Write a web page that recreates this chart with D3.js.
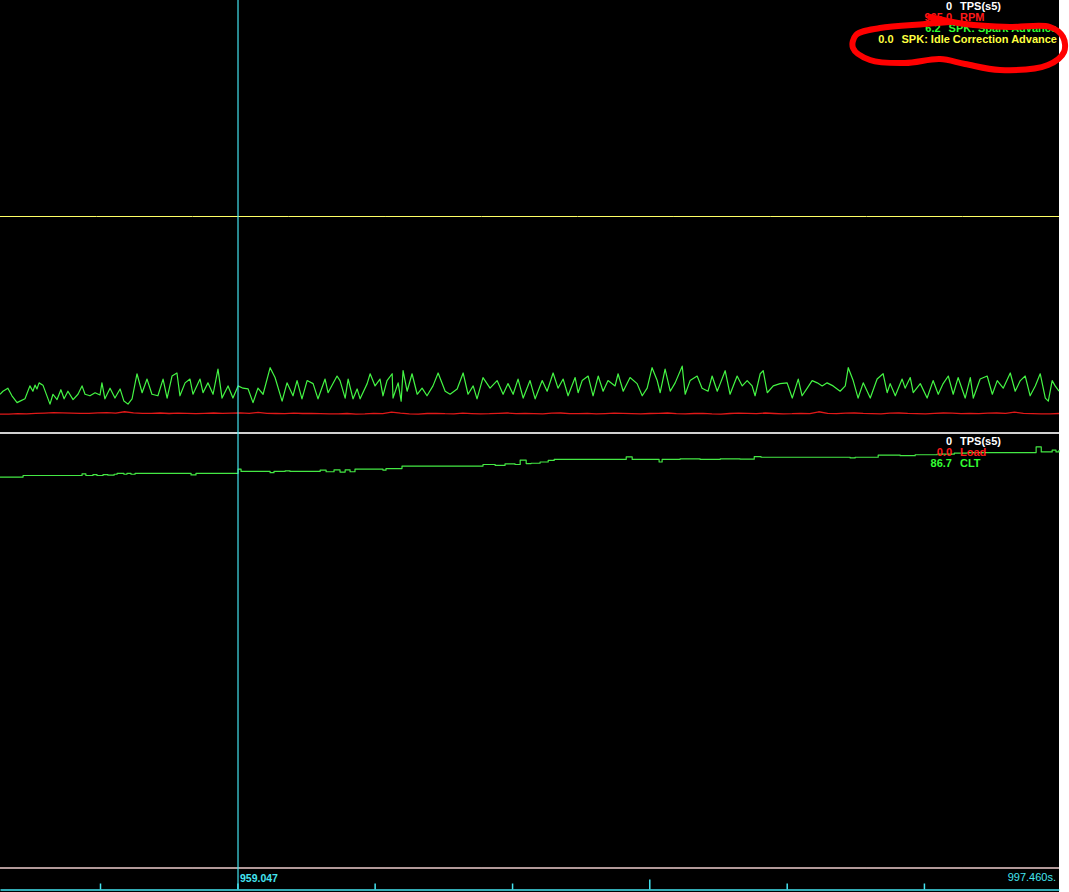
<!DOCTYPE html>
<html><head><meta charset="utf-8">
<script src="https://cdn.jsdelivr.net/npm/d3@7"></script>
<style>html,body{margin:0;padding:0;background:#fff;}svg{display:block;}</style>
</head><body>
<script>
// ---------------- DATA ----------------
const timeStart = 947.911, timeEnd = 997.460, cursorTime = 959.047;
const axisTicks = [952.59, 959.02, 965.44, 971.87, 978.29, 984.72, 991.14];
const majorTick = 978.29;

// SPK: Spark Advance (deg) – [time s, value]
const sparkAdvance = [
[947.91,5.1],[948.05,5.5],[948.28,5.9],[948.47,4.9],[948.71,4.0],[948.85,4.2],[949.08,4.5],[949.31,6.2],[949.45,5.5],[949.55,6.3],
[949.64,5.8],[949.74,6.6],[949.92,6.3],[950.25,3.8],[950.39,5.1],[950.58,4.4],[950.76,5.7],[950.91,4.5],[951.09,5.5],[951.33,4.4],
[951.56,5.1],[951.75,6.2],[951.89,5.1],[952.12,4.9],[952.36,5.3],[952.59,5.0],[952.68,6.6],[952.82,4.5],[953.06,5.9],[953.29,4.6],
[953.53,5.8],[953.71,4.2],[953.90,3.8],[954.09,4.5],[954.32,7.8],[954.56,5.3],[954.79,7.1],[955.02,5.1],[955.30,4.9],[955.54,7.1],
[955.73,4.6],[955.96,7.5],[956.19,7.9],[956.33,4.9],[956.57,6.6],[956.80,7.1],[956.94,5.1],[957.27,7.1],[957.41,5.3],[957.64,6.6],
[957.88,5.1],[958.11,8.4],[958.30,4.6],[958.58,6.2],[958.81,4.6],[959.05,6.2],[959.28,5.9],[959.52,5.8],[959.75,4.0],[959.98,5.9],
[960.22,5.1],[960.55,8.6],[960.78,7.3],[961.11,4.2],[961.34,6.6],[961.62,4.9],[961.81,6.9],[962.04,4.5],[962.28,6.9],[962.56,6.5],
[962.79,4.5],[963.12,7.1],[963.26,5.3],[963.68,7.5],[963.82,6.9],[964.06,4.6],[964.20,7.1],[964.43,4.5],[964.62,5.8],[964.76,4.5],
[965.09,6.5],[965.23,7.8],[965.46,6.2],[965.69,7.1],[965.83,4.9],[966.02,6.9],[966.26,7.8],[966.30,4.6],[966.54,6.6],[966.68,4.2],
[966.77,8.2],[966.96,5.5],[967.19,7.8],[967.43,5.1],[967.66,5.9],[967.89,4.9],[968.17,6.2],[968.41,7.9],[968.74,5.5],[968.97,5.1],
[969.30,5.8],[969.58,7.9],[969.81,5.1],[970.05,6.2],[970.23,4.5],[970.51,7.3],[970.84,5.9],[971.17,6.9],[971.45,5.1],[971.68,6.5],
[971.92,5.1],[972.15,7.1],[972.39,4.6],[972.71,6.9],[972.95,4.5],[973.28,6.9],[973.51,5.5],[973.79,7.9],[974.02,5.9],[974.26,7.1],
[974.49,4.9],[974.82,7.3],[974.96,5.3],[975.15,6.9],[975.43,7.5],[975.66,4.9],[975.90,7.5],[976.13,5.5],[976.36,6.9],[976.69,6.2],
[976.83,7.8],[977.07,5.5],[977.39,7.3],[977.72,6.5],[977.96,4.9],[978.19,5.9],[978.42,8.6],[978.66,6.9],[978.80,5.3],[979.03,8.4],
[979.27,5.5],[979.50,6.6],[979.83,8.8],[979.97,5.1],[980.20,6.9],[980.53,7.5],[980.76,5.9],[981.04,5.5],[981.23,7.5],[981.47,5.5],
[981.61,6.5],[981.84,8.2],[982.07,5.1],[982.40,7.5],[982.64,6.2],[982.87,6.9],[983.10,6.2],[983.24,4.9],[983.48,7.8],[983.62,8.2],
[983.81,5.3],[984.09,6.2],[984.41,6.5],[984.74,6.6],[984.98,4.6],[985.26,7.1],[985.44,4.9],[985.68,5.9],[985.91,6.9],[986.15,6.6],
[986.38,6.2],[986.61,6.6],[986.89,6.2],[987.22,5.5],[987.46,6.2],[987.60,8.6],[987.83,6.9],[988.06,4.6],[988.30,6.6],[988.63,4.6],
[988.95,7.1],[989.23,7.8],[989.42,5.3],[989.56,6.5],[989.80,4.9],[990.12,7.1],[990.26,5.9],[990.50,7.3],[990.64,5.3],[990.97,6.5],
[991.29,4.6],[991.57,6.9],[991.81,5.1],[992.04,6.5],[992.28,7.5],[992.51,5.1],[992.74,7.3],[993.07,4.6],[993.31,7.3],[993.45,4.6],
[993.77,7.1],[994.10,7.5],[994.34,5.1],[994.57,6.9],[994.85,5.9],[995.18,7.9],[995.41,5.5],[995.65,6.9],[995.88,7.5],[996.11,4.9],
[996.35,6.2],[996.58,7.8],[996.82,4.6],[996.96,4.2],[997.14,6.9],[997.28,6.2],[997.46,5.5]
];

// RPM, uniformly sampled over the window
const rpm = [920,915,935,925,950,965,985,975,965,955,950,975,990,960,1030,980,955,950,970,945,
965,950,940,955,970,950,965,975,955,1000,950,945,935,965,945,955,940,930,925,945,
920,930,955,940,1010,960,925,920,945,955,935,930,960,940,925,935,955,970,940,950,
935,925,960,970,940,935,955,925,940,960,950,935,925,945,955,970,935,925,945,955,
925,920,945,960,950,935,970,945,925,935,955,940,1030,950,940,960,970,950,940,930,
960,970,950,940,930,955,970,960,940,950,935,960,970,950,1010,955,940,930,925,945];

// SPK: Idle Correction Advance (deg), uniformly sampled
const idleCorrection = [0,0,0,0,0,0,0,0,0,0,0,0];
// TPS (%) in each panel, uniformly sampled
const tps = [0,0,0,0,0,0,0,0,0,0,0,0];
// Load, uniformly sampled
const load = [0,0,0,0,0,0,0,0,0,0,0,0];

// CLT (deg) – [time s, value], held until next sample
const clt = [
[947.91,84.3],[948.99,84.8],[951.75,85.3],[951.93,84.8],[952.26,85.1],[952.45,84.8],[952.73,85.1],[952.96,84.9],[953.25,85.2],[953.39,85.5],
[953.71,85.2],[953.85,85.5],[954.04,85.2],[954.23,85.5],[956.85,85.0],[957.08,85.5],[959.05,86.8],[959.19,86.1],[960.55,85.7],[960.73,86.1],
[961.25,86.3],[961.48,86.1],[962.89,86.5],[963.17,86.0],[963.54,86.6],[963.82,85.9],[964.06,86.6],[964.29,86.0],[964.52,86.8],[965.83,86.5],
[965.97,87.0],[966.72,87.8],[970.51,88.3],[971.08,88.0],[971.54,88.5],[972.01,88.3],[972.25,89.7],[972.53,88.6],[972.76,88.7],[973.18,89.1],
[973.56,89.6],[973.84,89.9],[977.21,90.7],[977.49,89.9],[978.75,89.1],[978.89,89.9],[979.73,90.1],[980.67,89.9],[981.61,90.1],[982.54,90.0],
[983.20,90.8],[983.52,90.6],[987.69,90.4],[987.92,90.6],[989.00,91.3],[990.03,91.1],[990.73,91.4],[991.76,91.6],[992.56,91.9],[993.17,92.1],
[996.39,93.9],[996.63,92.3],[997.14,92.9],[997.32,92.3],[997.46,92.9]
];

// Legends
const topLegendNames  = ["TPS(s5)", "RPM", "SPK: Spark Advance", "SPK: Idle Correction Advance"];
const topLegendValues = ["0", "965.0", "6.2", "0.0"];
const topLegendColors = ["#ffffff", "#ff1a1a", "#33ff33", "#ffff40"];
const botLegendNames  = ["TPS(s5)", "Load", "CLT"];
const botLegendValues = ["0", "0.0", "86.7"];
const botLegendColors = ["#ffffff", "#ff1a1a", "#33ff33"];

// ---------------- DRAW ----------------
const W = 1069, H = 892, plotW = 1059;
const svg = d3.select("body").append("svg").attr("width", W).attr("height", H);
svg.append("rect").attr("width", W).attr("height", H).attr("fill", "#ffffff");
svg.append("rect").attr("width", plotW).attr("height", H).attr("fill", "#000000");

const x = d3.scaleLinear().domain([timeStart, timeEnd]).range([0, plotW]);
const p1 = [433, 0], p2 = [868, 434];
const ySpark = d3.scaleLinear().domain([0, 57]).range(p1);
const yRpm = d3.scaleLinear().domain([0, 21000]).range(p1);
const yIdle = d3.scaleLinear().domain([-10, 10]).range(p1);
const yTps1 = d3.scaleLinear().domain([0, 100]).range(p1);
const yClt = d3.scaleLinear().domain([-40, 98]).range(p2);
const yLoad = d3.scaleLinear().domain([0, 100]).range(p2);
const yTps2 = d3.scaleLinear().domain([0, 100]).range(p2);

const uniform = arr => arr.map((v, i) => [timeStart + i * (timeEnd - timeStart) / (arr.length - 1), v]);
function drawLine(data, yScale, color, width, curve) {
  svg.append("path").datum(data)
    .attr("fill", "none").attr("stroke", color).attr("stroke-width", width)
    .attr("stroke-linejoin", "round")
    .attr("d", d3.line().x(d => x(d[0])).y(d => yScale(d[1])).curve(curve || d3.curveLinear));
}

drawLine(uniform(idleCorrection), yIdle, "#ffff66", 1);
drawLine(uniform(rpm), yRpm, "#e01818", 1.3);
drawLine(sparkAdvance, ySpark, "#44f544", 1.2);
drawLine(uniform(tps), yTps1, "#d0d0d0", 2);
drawLine(uniform(load), yLoad, "#d81818", 1);
drawLine(clt, yClt, "#44e844", 1.2, d3.curveStepAfter);
drawLine(uniform(tps), yTps2, "#c8c8c8", 1.5);

// bottom time axis
const cyan = "#44e4f0";
const axisG = svg.append("g").attr("transform", "translate(0,889.5)")
  .call(d3.axisTop(x).tickValues(axisTicks).tickSize(6).tickSizeOuter(0).tickFormat(""));
axisG.select(".domain").attr("stroke", cyan).attr("stroke-width", 1.5);
axisG.selectAll(".tick line").attr("stroke", cyan).attr("stroke-width", 1.5)
  .attr("y2", d => d === majorTick ? -10 : -6);

// cursor
svg.append("line").attr("x1", x(cursorTime)).attr("x2", x(cursorTime))
  .attr("y1", 0).attr("y2", 889).attr("stroke", cyan).attr("stroke-width", 1.2);
const font = "'Liberation Sans', Arial, sans-serif";
svg.append("text").attr("x", x(cursorTime) + 2).attr("y", 882)
  .attr("fill", cyan).attr("font-family", font).attr("font-size", 10.5).attr("font-weight", "bold")
  .text(d3.format(".3f")(cursorTime));
svg.append("text").attr("x", 1056).attr("y", 881).attr("text-anchor", "end")
  .attr("fill", cyan).attr("font-family", font).attr("font-size", 11)
  .text(d3.format(".3f")(timeEnd) + "s.");

// legends
function legend(names, values, colors, y0) {
  names.forEach((n, i) => {
    const y = y0 + i * 11;
    const t = svg.append("text").attr("y", y).attr("fill", colors[i])
      .attr("font-family", font).attr("font-size", 11).attr("font-weight", "bold").text(n);
    const w = t.node().getComputedTextLength();
    const lx = Math.min(960, 1057 - w);
    t.attr("x", lx);
    svg.append("text").attr("x", lx - 8).attr("y", y).attr("text-anchor", "end").attr("fill", colors[i])
      .attr("font-family", font).attr("font-size", 11).attr("font-weight", "bold").text(values[i]);
  });
}
legend(topLegendNames, topLegendValues, topLegendColors, 10);
legend(botLegendNames, botLegendValues, botLegendColors, 445);

// hand-drawn red annotation
const scribble = [[930,17],[965,24],[1010,27],[1050,27],[1063,37],[1064,52],[1048,65],[1000,70],[965,64],[940,59],[905,63],[870,60],[853,48],[856,35],[880,28],[925,24],[950,22]];
svg.append("path").datum(scribble).attr("fill", "none").attr("stroke", "#ff0000")
  .attr("stroke-width", 6).attr("stroke-linecap", "round")
  .attr("d", d3.line().curve(d3.curveCatmullRom));
</script>
</body></html>
